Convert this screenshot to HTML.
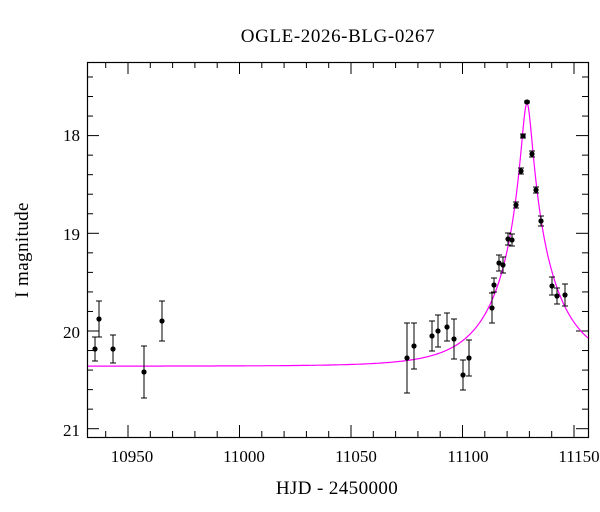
<!DOCTYPE html>
<html><head><meta charset="utf-8"><style>
html,body{margin:0;padding:0;background:#fff;}
svg{display:block;font-family:"Liberation Serif",serif;}
</style></head><body>
<svg id="s" width="600" height="512" viewBox="0 0 600 512" xmlns="http://www.w3.org/2000/svg">
<rect width="600" height="512" fill="#fff"/>
<text x="338" y="42" font-size="19" letter-spacing="0.6" text-anchor="middle">OGLE-2026-BLG-0267</text>
<g id="ticks" stroke="#000" stroke-width="1"></g>
<rect x="87.5" y="62.5" width="501" height="375" fill="none" stroke="#000" stroke-width="1.2"/>
<g font-size="17" text-anchor="end">
<text x="80" y="141">18</text><text x="80" y="240">19</text><text x="80" y="338">20</text><text x="80" y="436">21</text>
</g>
<g font-size="17" text-anchor="middle">
<text x="132" y="462">10950</text><text x="244" y="462">11000</text><text x="356" y="462">11050</text><text x="468" y="462">11100</text><text x="579" y="462">11150</text>
</g>
<text x="337" y="494" font-size="19" letter-spacing="0.4" text-anchor="middle">HJD - 2450000</text>
<text transform="translate(28,250) rotate(-90)" font-size="19" letter-spacing="0.4" text-anchor="middle">I magnitude</text>
<path id="model" fill="none" stroke="#ff00ff" stroke-width="1.2"/>
<g id="pts"></g>
</svg>
<script>
var ns="http://www.w3.org/2000/svg";
function el(p,t,a){var e=document.createElementNS(ns,t);for(var k in a)e.setAttribute(k,a[k]);p.appendChild(e);return e;}
var tk=document.getElementById("ticks");
var X=function(t){return 128+(t-10950)*2.23;};
var Y=function(m){return 135.6+(m-18)*97.7;};
for(var t=10940;t<=11150;t+=10){var x=X(t);var major=(t%50==0);var L=major?12:6;
 el(tk,"line",{x1:x,y1:437,x2:x,y2:437-L});el(tk,"line",{x1:x,y1:62,x2:x,y2:62+L});}
for(var i=0;i<=19;i++){var m=17.4+i*0.2;var y=Y(m);if(y<62||y>437)continue;var major=Math.abs(m-Math.round(m))<0.01;var L=major?12:6;
 el(tk,"line",{x1:87,y1:y,x2:87+L,y2:y});el(tk,"line",{x1:588,y1:y,x2:588-L,y2:y});}
var d="";var t0=11128.9,u0=0.084,tE=26,base=20.36;
for(var x=88;x<=588;x+=0.5){var t=10950+(x-128)/2.23;var tau=(t-t0)/tE;var u=Math.sqrt(u0*u0+tau*tau);
 var A=(u*u+2)/(u*Math.sqrt(u*u+4));var m=base-2.5*Math.log10(A);var y=Y(m);if(y<62)y=62;
 d+=(d?"L":"M")+x.toFixed(1)+","+y.toFixed(1);}
document.getElementById("model").setAttribute("d",d);
var P=[[95,349,12],[99,319,18],[113,349,14],[144,372,26],[162,321,20],
[407,358,35],[414,346,23],[432,336,15],[438,331,16],[447,327,14],[454,339,20],[463,375,15],[469,358,18],
[492,308,15],[494,285,7],[499,263,8],[503,265,8],[508,239,6],[512,240,6],[516,205,3],[521,171,3],[523,136,2],[527,102,1],[532,154,3],[536,190,3],[541,221,5],[552,286,9],[557,296,8],[565,295,11]];
var g=document.getElementById("pts");
P.forEach(function(p){var x=p[0],y=p[1],e=p[2];
 el(g,"line",{x1:x,y1:y-e,x2:x,y2:y+e,stroke:"#000","stroke-width":1});
 el(g,"line",{x1:x-3,y1:y-e,x2:x+3,y2:y-e,stroke:"#000","stroke-width":1});
 el(g,"line",{x1:x-3,y1:y+e,x2:x+3,y2:y+e,stroke:"#000","stroke-width":1});
 el(g,"circle",{cx:x,cy:y,r:2.6,fill:"#000"});});
</script>
</body></html>
